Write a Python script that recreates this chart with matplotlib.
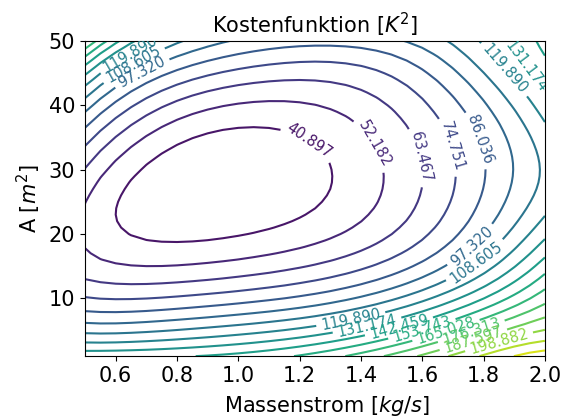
import numpy as np
import matplotlib
matplotlib.use("Agg")
import matplotlib.pyplot as plt
from matplotlib.colors import Normalize

# contour levels as labelled in the reference (29.612 / 232.736 only set the colour scale)
levels = [40.897, 52.182, 63.467, 74.751, 86.036, 97.320, 108.605,
          119.890, 131.174, 142.459, 153.743, 165.028, 176.313, 187.597,
          198.882, 210.166, 221.451]
level_min, level_max = 29.612, 232.736

# points: Massenstrom, A, cost value
pts_m = [0.5, 0.5, 0.5, 0.5, 0.5, 0.5, 0.5, 0.5, 0.5, 0.5, 0.5, 0.5, 0.5, 0.5, 0.5, 0.5, 0.5, 0.5, 0.5, 0.5, 0.5, 0.5,
         2.0, 2.0, 2.0, 2.0, 2.0, 2.0, 2.0, 2.0, 2.0, 2.0, 2.0, 2.0, 2.0, 2.0, 2.0, 2.0,
         0.535, 0.565, 0.605, 0.66, 0.735, 0.83, 0.94, 1.22, 1.56, 1.66, 1.79, 1.88, 1.97,
         0.712, 0.777, 0.875, 1.04, 1.136, 1.30, 1.31, 1.289, 1.224, 1.126, 0.984, 0.821, 0.603, 0.609, 0.658, 0.625, 0.669,
         0.571, 0.647, 0.755, 0.875, 1.147, 1.365, 1.474, 1.452, 1.365, 1.20, 1.04, 0.875, 0.70, 0.582,
         0.571, 0.68, 0.81, 1.1, 1.615, 1.58, 1.474, 1.136, 0.81, 0.647,
         0.81, 1.136, 1.68, 1.707, 1.69, 1.626, 1.15, 1.528, 1.626,
         0.81, 1.136, 1.80, 1.80, 1.757, 1.626, 1.2, 1.528, 1.724,
         0.81, 1.136, 1.876, 1.887, 1.854, 1.82, 1.746,
         0.81, 1.136, 1.94, 1.99, 1.95, 1.854, 1.81,
         1.136, 1.365, 1.85, 1.136, 1.40, 1.92,
         0.84, 1.136, 1.53, 1.60, 1.69, 1.845, 1.92, 0.95]
pts_a = [48.9, 47.3, 46.0, 44.4, 43.2, 41.3, 39.3, 37.2, 34.3, 29.8, 24.0, 18.3, 13.1, 10.1, 7.9, 6.1, 4.5, 3.1, 1.9, 50.0, 1.0, 21.2,
         48.1, 42.0, 37.2, 30.0, 24.0, 19.8, 16.4, 13.6, 11.0, 8.9, 7.1, 5.3, 3.5, 1.9, 1.0, 50.0,
         50, 50, 50, 50, 50, 50, 50, 50, 50, 50, 50, 50, 50,
         31.5, 33.6, 35.4, 36.7, 36.2, 31.5, 29.5, 25.8, 23.2, 21.1, 19.05, 18.5, 24.2, 21.6, 19.6, 27.3, 30.5,
         28.9, 33.0, 37.0, 39.6, 40.3, 37.2, 29.4, 25.3, 21.1, 18.0, 16.5, 15.4, 15.2, 15.7,
         33.0, 36.7, 40.8, 44.0, 27.9, 25.3, 19.05, 14.0, 12.4, 12.4,
         10.2, 11.9, 36.2, 30.0, 24.8, 20.1, 46.6, 44.5, 39.8,
         8.4, 10.0, 30.5, 25.8, 20.6, 15.9, 48.6, 47.6, 39.3,
         6.6, 8.2, 36.2, 28.4, 24.2, 22.4, 43.9,
         5.05, 6.6, 36.2, 26.8, 22.7, 20.1, 44.4,
         5.05, 6.6, 45.5, 3.5, 5.5, 47.8,
         1.0, 2.0, 5.8, 5.1, 4.6, 3.9, 1.0, 27.0]
pts_z = [165.03, 153.74, 142.46, 131.17, 119.89, 108.61, 97.32, 86.04, 74.75, 63.47, 52.18, 52.18, 63.47, 74.75, 86.04, 97.32, 108.61, 119.89, 131.17, 176.0, 139.0, 48.0,
         142.46, 131.17, 119.89, 111.0, 119.89, 131.17, 142.46, 153.74, 165.03, 176.31, 187.60, 198.88, 210.17, 221.45, 228.0, 146.0,
         165.03, 153.74, 142.46, 131.17, 119.89, 108.61, 97.32, 89.0, 97.32, 108.61, 119.89, 131.17, 142.46,
         40.90, 40.90, 40.90, 40.90, 40.90, 40.90, 40.90, 40.90, 40.90, 40.90, 40.90, 40.90, 40.90, 40.90, 40.90, 40.90, 40.90,
         52.18, 52.18, 52.18, 52.18, 52.18, 52.18, 52.18, 52.18, 52.18, 52.18, 52.18, 52.18, 52.18, 52.18,
         63.47, 63.47, 63.47, 63.47, 63.47, 63.47, 63.47, 63.47, 63.47, 63.47,
         74.75, 74.75, 74.75, 74.75, 74.75, 74.75, 74.75, 74.75, 74.75,
         86.04, 86.04, 86.04, 86.04, 86.04, 86.04, 86.04, 86.04, 86.04,
         97.32, 97.32, 97.32, 97.32, 97.32, 97.32, 97.32,
         108.61, 108.61, 108.61, 108.61, 108.61, 108.61, 108.61,
         119.89, 119.89, 119.89, 131.17, 131.17, 131.17,
         142.46, 142.46, 142.46, 153.74, 165.03, 198.88, 221.45, 31.0]

# label centres as placed in the reference
label_pos = [(1.234, 34.8), (1.446, 34.1), (1.599, 32.0), (1.69, 33.5), (1.783, 34.6),
             (1.746, 18.8), (1.767, 16.2), (1.854, 45.0), (1.925, 45.6),
             (0.652, 47.6), (0.663, 45.9), (0.69, 44.7),
             (1.367, 6.7), (1.419, 6.0), (1.523, 5.8), (1.599, 5.2), (1.68, 4.6),
             (1.757, 5.3), (1.767, 3.5), (1.846, 4.0)]


def basis(m, a):
    u = (np.asarray(m, float) - 1.25) / 0.75
    v = (np.asarray(a, float) - 25.5) / 24.5
    return np.stack([u**i * v**j for i in range(6) for j in range(7)], axis=-1)


# smooth surface through the read-off contour points (reweighted least squares)
pm, pa, pz = np.array(pts_m), np.array(pts_a), np.array(pts_z)
B = basis(pm, pa)
w = np.ones(len(pz))
for _ in range(5):
    Bw = B * w[:, None]
    coef = np.linalg.solve(Bw.T @ Bw + 1e-4 * np.eye(B.shape[1]), Bw.T @ (pz * w))
    gx = (basis(pm + 1e-3, pa) - basis(pm - 1e-3, pa)) @ coef / 2e-3 / 306.4
    gy = (basis(pm, pa + 1e-2) - basis(pm, pa - 1e-2)) @ coef / 2e-2 / 6.43
    g = np.hypot(gx, gy)
    w = 1.0 / np.maximum(g, 0.3 * np.median(g))

m = np.linspace(0.5, 2.0, 31)
a = np.linspace(1, 50, 50)
mm, aa = np.meshgrid(m, a)
cost = basis(mm, aa) @ coef

fig = plt.figure(figsize=(5.67, 4.19), dpi=100)
ax = fig.add_axes([0.15, 0.15, 0.811, 0.752])
cs = ax.contour(mm, aa, cost, levels=levels, cmap="viridis",
                norm=Normalize(level_min, level_max))
ax.clabel(cs, fmt="%.3f", fontsize=10.5, manual=label_pos)

ax.set_title("Kostenfunktion [$K^2$]", fontsize=15)
ax.set_xlabel("Massenstrom [$kg/s$]", fontsize=15)
ax.xaxis.set_label_coords(0.527, -0.12)
ax.set_ylabel("A [$m^2$]", fontsize=15)
ax.tick_params(labelsize=15)
ax.set_xticks([0.6, 0.8, 1.0, 1.2, 1.4, 1.6, 1.8, 2.0])
ax.set_yticks([10, 20, 30, 40, 50])

fig.savefig("out.png", dpi=100)
